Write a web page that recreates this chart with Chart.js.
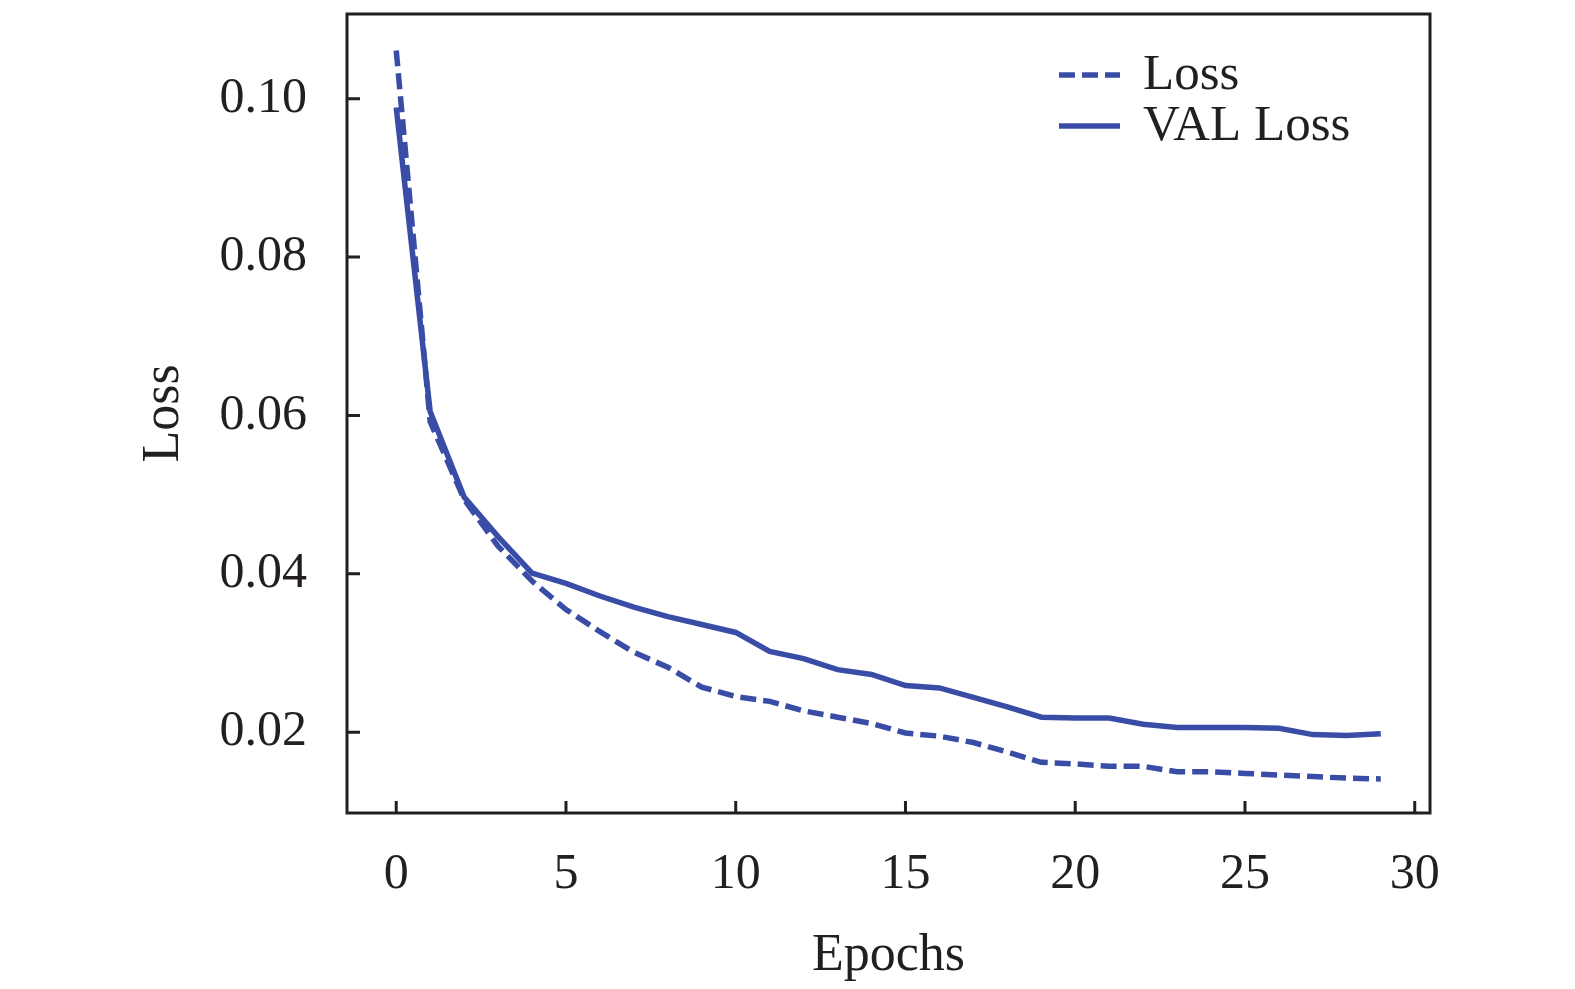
<!DOCTYPE html>
<html>
<head>
    <title>Loss vs Epochs</title>
    <script src="https://cdn.jsdelivr.net/npm/chart.js"></script>
    <style>
        body { margin: 0; background: #ffffff; }
        canvas { display: block; }
    </style>
</head>
<body>
    <canvas id="lossChart" width="1575" height="989"></canvas>
    <script>
        // values
        let epochs = [];
        for (let i = 0; i < 30; i++) {
            epochs.push(i);
        }
        let lossValues = [0.1061, 0.0592, 0.0494, 0.0435, 0.0391, 0.0355, 0.0327, 0.0301, 0.0282, 0.0257,
                          0.0245, 0.0239, 0.0227, 0.0219, 0.0211, 0.0199, 0.0195, 0.0187, 0.0175, 0.0162,
                          0.0160, 0.0157, 0.0157, 0.0150, 0.0150, 0.0148, 0.0146, 0.0144, 0.0142, 0.0141];
        let valLossValues = [0.0989, 0.0605, 0.0497, 0.0447, 0.0401, 0.0388, 0.0372, 0.0358, 0.0346, 0.0336,
                             0.0326, 0.0302, 0.0293, 0.0279, 0.0273, 0.0259, 0.0256, 0.0244, 0.0232, 0.0219,
                             0.0218, 0.0218, 0.0210, 0.0206, 0.0206, 0.0206, 0.0205, 0.0197, 0.0196, 0.0198];
        let xTicks = [0, 5, 10, 15, 20, 25, 30];
        let yTicks = [0.02, 0.04, 0.06, 0.08, 0.10];

        let lineColor = '#3a4da6';
        let inkColor = '#231f20';
        let serif = '"Liberation Serif", "Times New Roman", serif';

        function toPoints(values) {
            return values.map(function (v, i) { return { x: epochs[i], y: v }; });
        }

        // box around the plot plus the inward tick marks
        let framePlugin = {
            id: 'frame',
            afterDraw: function (chart) {
                let ctx = chart.ctx;
                let area = chart.chartArea;
                let xScale = chart.scales.x;
                let yScale = chart.scales.y;
                ctx.save();
                ctx.strokeStyle = inkColor;
                ctx.lineWidth = 3;
                ctx.strokeRect(area.left, area.top, area.right - area.left, area.bottom - area.top);
                ctx.beginPath();
                xScale.ticks.forEach(function (t) {
                    let px = xScale.getPixelForValue(t.value);
                    ctx.moveTo(px, area.bottom);
                    ctx.lineTo(px, area.bottom - 12);
                });
                yScale.ticks.forEach(function (t) {
                    let py = yScale.getPixelForValue(t.value);
                    ctx.moveTo(area.left, py);
                    ctx.lineTo(area.left + 13, py);
                });
                ctx.stroke();
                ctx.restore();
            }
        };

        // legend inside the upper right corner, like the original
        let legendPlugin = {
            id: 'cornerLegend',
            afterDraw: function (chart) {
                let ctx = chart.ctx;
                let rows = [75, 126];
                ctx.save();
                chart.data.datasets.forEach(function (ds, i) {
                    ctx.strokeStyle = ds.borderColor;
                    ctx.lineWidth = ds.borderWidth;
                    ctx.setLineDash(ds.borderDash || []);
                    ctx.beginPath();
                    ctx.moveTo(1059, rows[i]);
                    ctx.lineTo(1120, rows[i]);
                    ctx.stroke();
                    ctx.setLineDash([]);
                    ctx.fillStyle = inkColor;
                    ctx.font = '51px ' + serif;
                    ctx.textAlign = 'left';
                    ctx.textBaseline = 'alphabetic';
                    ctx.fillText(ds.label, 1143, rows[i] + 14);
                });
                ctx.restore();
            }
        };

        let ctx = document.getElementById('lossChart').getContext('2d');
        new Chart(ctx, {
            type: 'line',
            data: {
                datasets: [
                    {
                        label: 'Loss',
                        data: toPoints(lossValues),
                        borderColor: lineColor,
                        borderWidth: 5.5,
                        borderDash: [16, 7],
                        pointRadius: 0,
                        tension: 0,
                        fill: false
                    },
                    {
                        label: 'VAL Loss',
                        data: toPoints(valLossValues),
                        borderColor: lineColor,
                        borderWidth: 5.5,
                        pointRadius: 0,
                        tension: 0,
                        fill: false
                    }
                ]
            },
            options: {
                responsive: false,
                devicePixelRatio: 1,
                animation: false,
                layout: {
                    padding: { left: 0, right: 145, top: 14, bottom: 0 }
                },
                plugins: {
                    legend: { display: false },
                    tooltip: { enabled: false }
                },
                scales: {
                    x: {
                        type: 'linear',
                        min: -1.45,
                        max: 30.45,
                        afterBuildTicks: function (scale) {
                            scale.ticks = xTicks.map(function (v) { return { value: v }; });
                        },
                        afterFit: function (scale) {
                            scale.height = 176;
                            scale.paddingLeft = 0;
                            scale.paddingRight = 0;
                        },
                        grid: { display: false, drawTicks: false, tickLength: 0 },
                        border: { display: false },
                        ticks: {
                            autoSkip: false,
                            maxRotation: 0,
                            padding: 32,
                            color: inkColor,
                            font: { family: serif, size: 50 },
                            callback: function (v) { return String(v); }
                        },
                        title: {
                            display: true,
                            text: 'Epochs',
                            color: inkColor,
                            font: { family: serif, size: 52 },
                            padding: { top: 0, bottom: 1 }
                        }
                    },
                    y: {
                        min: 0.0098,
                        max: 0.1107,
                        afterBuildTicks: function (scale) {
                            scale.ticks = yTicks.map(function (v) { return { value: v }; });
                        },
                        afterFit: function (scale) {
                            scale.width = 347;
                            scale.paddingTop = 0;
                            scale.paddingBottom = 0;
                        },
                        grid: { display: false, drawTicks: false, tickLength: 0 },
                        border: { display: false },
                        ticks: {
                            padding: 40,
                            color: inkColor,
                            font: { family: serif, size: 50 },
                            callback: function (v) { return v.toFixed(2); }
                        },
                        title: {
                            display: true,
                            text: 'Loss',
                            color: inkColor,
                            font: { family: serif, size: 52 },
                            padding: { top: 133, bottom: 0 }
                        }
                    }
                }
            },
            plugins: [framePlugin, legendPlugin]
        });
    </script>
</body>
</html>
